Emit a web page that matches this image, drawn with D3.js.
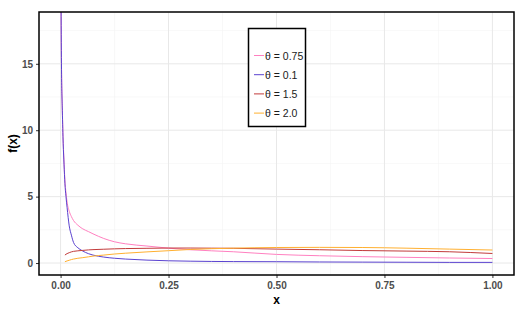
<!DOCTYPE html>
<html>
<head>
<meta charset="utf-8">
<script src="https://cdnjs.cloudflare.com/ajax/libs/d3/7.8.5/d3.min.js"></script>
<style>
  body { margin: 0; background: #fff; }
  text { font-family: "Liberation Sans", Arial, sans-serif; }
</style>
</head>
<body>
<script>
'use strict';

// x grid used by all curves
const xValues = [0.001, 0.002, 0.004, 0.006, 0.008, 0.01, 0.0125, 0.015, 0.02, 0.025, 0.03, 0.04, 0.05,
  0.065, 0.075, 0.1, 0.125, 0.15, 0.2, 0.25, 0.3, 0.35, 0.4, 0.5, 0.6, 0.7, 0.8, 0.9, 1.0];

// f(x) (null = not drawn)
const theta075 = [20, 15.2, 11.6, 9.2, 7.6, 6.2, 5.3, 4.6, 3.9, 3.5, 3.2, 2.85, 2.6,
  2.36, 2.2, 1.85, 1.6, 1.45, 1.28, 1.12, 1.0, 0.92, 0.85, 0.65, 0.55, 0.48, 0.43, 0.38, 0.34];
const theta01 = [20, 15, 11.5, 9, 7.4, 6.0, 5.0, 4.2, 2.8, 2.1, 1.55, 1.15, 0.93,
  0.7, 0.6, 0.45, 0.36, 0.3, 0.22, 0.17, 0.14, 0.12, 0.11, 0.1, 0.08, 0.07, 0.06, 0.05, 0.05];
const theta15 = [null, null, null, null, null, 0.6, 0.66, 0.71, 0.78, 0.84, 0.88, 0.92, 0.95,
  0.99, 1.01, 1.04, 1.07, 1.09, 1.11, 1.13, 1.13, 1.12, 1.11, 1.05, 1.0, 0.94, 0.9, 0.85, 0.72];
const theta20 = [null, null, null, null, null, 0.1, 0.13, 0.16, 0.21, 0.26, 0.3, 0.36, 0.4,
  0.47, 0.52, 0.6, 0.68, 0.74, 0.84, 0.93, 1.02, 1.08, 1.12, 1.17, 1.18, 1.17, 1.12, 1.05, 0.98];

const seriesNames = ["θ = 0.75", "θ = 0.1", "θ = 1.5", "θ = 2.0"];
const seriesColors = ["#ff80c0", "#5b43d0", "#c23b3b", "#ffb030"];
const xTicks = [0, 0.25, 0.5, 0.75, 1.0];
const yTicks = [0, 5, 10, 15];

const allSeries = [theta075, theta01, theta15, theta20];

const W = 528, H = 313;
const panel = { left: 39, right: 514, top: 12, bottom: 275 };

const svg = d3.select('body').append('svg')
  .attr('width', W)
  .attr('height', H);

const xScale = d3.scaleLinear().domain([-0.05, 1.05]).range([panel.left, panel.right]);
const yScale = d3.scaleLinear().domain([-0.9, 18.9]).range([panel.bottom, panel.top]);

// grid lines (minor then major)
const grid = svg.append('g');
const xMinor = [0.125, 0.375, 0.625, 0.875];
const yMinor = [2.5, 7.5, 12.5, 17.5];
grid.selectAll('.xminor').data(xMinor).enter().append('line')
  .attr('x1', d => xScale(d)).attr('x2', d => xScale(d))
  .attr('y1', panel.top).attr('y2', panel.bottom)
  .attr('stroke', '#f3f3f3').attr('stroke-width', 0.6);
grid.selectAll('.yminor').data(yMinor).enter().append('line')
  .attr('x1', panel.left).attr('x2', panel.right)
  .attr('y1', d => yScale(d)).attr('y2', d => yScale(d))
  .attr('stroke', '#f3f3f3').attr('stroke-width', 0.6);
grid.selectAll('.xmajor').data(xTicks).enter().append('line')
  .attr('x1', d => xScale(d)).attr('x2', d => xScale(d))
  .attr('y1', panel.top).attr('y2', panel.bottom)
  .attr('stroke', '#e8e8e8').attr('stroke-width', 1);
grid.selectAll('.ymajor').data(yTicks).enter().append('line')
  .attr('x1', panel.left).attr('x2', panel.right)
  .attr('y1', d => yScale(d)).attr('y2', d => yScale(d))
  .attr('stroke', '#e8e8e8').attr('stroke-width', 1);

// clip curves to the panel
svg.append('clipPath').attr('id', 'clip')
  .append('rect')
  .attr('x', panel.left).attr('y', panel.top)
  .attr('width', panel.right - panel.left).attr('height', panel.bottom - panel.top);

const line = d3.line()
  .defined(d => d[1] !== null)
  .curve(d3.curveMonotoneX)
  .x(d => xScale(d[0]))
  .y(d => yScale(d[1]));

svg.append('g').attr('clip-path', 'url(#clip)')
  .selectAll('path')
  .data(allSeries)
  .enter()
  .append('path')
  .attr('d', s => line(xValues.map((x, i) => [x, s[i]])))
  .attr('fill', 'none')
  .attr('stroke', (d, i) => seriesColors[i])
  .attr('stroke-width', 1);

// axes
const xAxis = d3.axisBottom(xScale).tickValues(xTicks)
  .tickFormat(d3.format('.2f')).tickSize(3).tickPadding(4);
const gx = svg.append('g')
  .attr('transform', 'translate(0,' + panel.bottom + ')')
  .call(xAxis);
const yAxis = d3.axisLeft(yScale).tickValues(yTicks).tickSize(3).tickPadding(3);
const gy = svg.append('g')
  .attr('transform', 'translate(' + panel.left + ',0)')
  .call(yAxis);
[gx, gy].forEach(g => {
  g.select('.domain').remove();
  g.selectAll('line').attr('stroke', '#333');
  g.selectAll('text')
    .style('font-size', '10px')
    .style('font-weight', 'bold')
    .attr('fill', '#4d4d4d');
});

// panel border
svg.append('rect')
  .attr('x', panel.left).attr('y', panel.top)
  .attr('width', panel.right - panel.left).attr('height', panel.bottom - panel.top)
  .attr('fill', 'none')
  .attr('stroke', '#000')
  .attr('stroke-width', 1.5);

// axis titles
svg.append('text')
  .attr('x', (panel.left + panel.right) / 2)
  .attr('y', 304)
  .attr('text-anchor', 'middle')
  .style('font-size', '12px')
  .style('font-weight', 'bold')
  .text('x');

svg.append('text')
  .attr('transform', 'translate(17,' + ((panel.top + panel.bottom) / 2) + ')rotate(-90)')
  .attr('text-anchor', 'middle')
  .style('font-size', '12px')
  .style('font-weight', 'bold')
  .text('f(x)');

// legend
const legend = svg.append('g');
legend.append('rect')
  .attr('x', 248.5).attr('y', 28.5)
  .attr('width', 57).attr('height', 98)
  .attr('fill', '#fff')
  .attr('stroke', '#000')
  .attr('stroke-width', 1.5);

const rows = legend.selectAll('.row')
  .data(seriesNames)
  .enter()
  .append('g')
  .attr('transform', (d, i) => 'translate(0,' + (55.5 + i * 19.2) + ')');
rows.append('line')
  .attr('x1', 254).attr('x2', 264)
  .attr('y1', 0).attr('y2', 0)
  .attr('stroke', (d, i) => seriesColors[i])
  .attr('stroke-width', 1);
rows.append('text')
  .attr('x', 265)
  .attr('y', 4)
  .style('font-size', '10.5px')
  .attr('fill', '#1a1a1a')
  .text(d => d);
</script>
</body>
</html>
